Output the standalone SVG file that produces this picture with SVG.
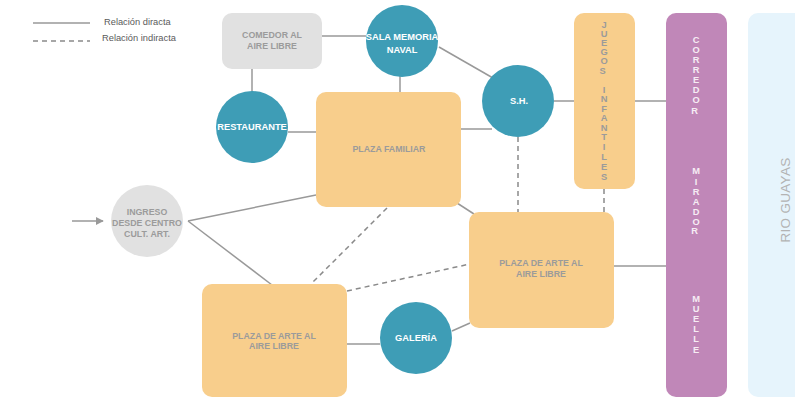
<svg xmlns="http://www.w3.org/2000/svg" width="795" height="398" viewBox="0 0 795 398">
<defs>
<style>
.ln{stroke:#999;stroke-width:1.5;fill:none}
.dl{stroke:#8a8a8a;stroke-width:1.5;fill:none;stroke-dasharray:5,4}
.blue{fill:#3e9db6}
.org{fill:#f8ce8c}
.gry{fill:#e1e1e1}
.tw{font-family:"Liberation Sans",Arial,sans-serif;font-weight:bold;font-size:9.3px;fill:#ffffff;text-anchor:middle}
.tg{font-family:"Liberation Sans",Arial,sans-serif;font-weight:bold;font-size:8.8px;fill:#9b9b9b;text-anchor:middle}
.lg{font-family:"Liberation Sans",Arial,sans-serif;font-size:9.3px;fill:#5a5a5a}
.vt{font-family:"Liberation Sans",Arial,sans-serif;font-weight:bold;font-size:9.3px;text-anchor:middle}
</style>
<marker id="arr" viewBox="0 0 10 10" refX="9" refY="5" markerWidth="8" markerHeight="8" markerUnits="userSpaceOnUse" orient="auto">
<path d="M0,0 L10,5 L0,10 z" fill="#999"/>
</marker>
</defs>

<g id="legend">
<line class="ln" x1="33" y1="23" x2="90" y2="23"/>
<text class="lg" x="104" y="25">Relación diracta</text>
<line class="dl" x1="33" y1="41" x2="90" y2="41"/>
<text class="lg" x="102" y="41">Relación indiracta</text>
</g>

<g id="connectors">
<line class="ln" x1="322" y1="36" x2="368" y2="36"/>
<line class="ln" x1="252" y1="69" x2="252" y2="92"/>
<line class="ln" x1="400" y1="76" x2="400" y2="92"/>
<line class="ln" x1="439" y1="47" x2="493" y2="78"/>
<line class="ln" x1="288" y1="132" x2="316" y2="132"/>
<line class="ln" x1="461" y1="129" x2="492" y2="129"/>
<line class="ln" x1="554" y1="101" x2="574" y2="101"/>
<line class="ln" x1="635" y1="101" x2="666" y2="101"/>
<line class="ln" x1="72" y1="221" x2="103" y2="221" marker-end="url(#arr)"/>
<line class="ln" x1="188" y1="221" x2="316" y2="195"/>
<line class="ln" x1="188" y1="221" x2="272" y2="285"/>
<line class="ln" x1="457" y1="203" x2="474" y2="214"/>
<line class="ln" x1="614" y1="266" x2="666" y2="266"/>
<line class="ln" x1="347" y1="344" x2="380" y2="344"/>
<line class="ln" x1="452" y1="331" x2="470" y2="323"/>
<line class="dl" x1="387" y1="208" x2="311" y2="284"/>
<line class="dl" x1="347" y1="291" x2="470" y2="264"/>
<line class="dl" x1="518" y1="137" x2="518" y2="212"/>
<line class="dl" x1="604" y1="189" x2="604" y2="212"/>
</g>

<g id="rio">
<rect x="748" y="13" width="60" height="384" rx="10" fill="#e6f4fc"/>
<text x="790" y="200" transform="rotate(-90 790 200)" font-family="'Liberation Sans',Arial,sans-serif" font-size="13.5" fill="#b3b3b3" text-anchor="middle" letter-spacing="0.3">RIO GUAYAS</text>
</g>

<g id="corredor">
<rect x="666" y="13" width="61" height="384" rx="10" fill="#c087b8"/>
<text class="vt" fill="#f6ecf4">
<tspan x="696" y="43">C</tspan><tspan x="696" y="53">O</tspan><tspan x="696" y="63">R</tspan><tspan x="696" y="73">R</tspan><tspan x="696" y="83">E</tspan><tspan x="696" y="93">D</tspan><tspan x="696" y="103">O</tspan><tspan x="696" y="114">R</tspan>
<tspan x="696" y="174">M</tspan><tspan x="696" y="185">I</tspan><tspan x="696" y="195">R</tspan><tspan x="696" y="205">A</tspan><tspan x="696" y="215">D</tspan><tspan x="696" y="225">O</tspan><tspan x="696" y="234">R</tspan>
<tspan x="696" y="302">M</tspan><tspan x="696" y="312">U</tspan><tspan x="696" y="322">E</tspan><tspan x="696" y="332">L</tspan><tspan x="696" y="342">L</tspan><tspan x="696" y="353">E</tspan>
</text>
</g>

<g id="juegos">
<rect x="574" y="13" width="61" height="176" rx="10" class="org"/>
<text class="vt" fill="#9b9b9b">
<tspan x="604" y="28">J</tspan><tspan x="604" y="37">U</tspan><tspan x="604" y="46">E</tspan><tspan x="604" y="55">G</tspan><tspan x="604" y="64">O</tspan><tspan x="604" y="74">S</tspan>
<tspan x="604" y="93">I</tspan><tspan x="604" y="102">N</tspan><tspan x="604" y="112">F</tspan><tspan x="604" y="121">A</tspan><tspan x="604" y="131">N</tspan><tspan x="604" y="140">T</tspan><tspan x="604" y="150">I</tspan><tspan x="604" y="160">L</tspan><tspan x="604" y="170">E</tspan><tspan x="604" y="180">S</tspan>
</text>
</g>

<g id="comedor">
<rect x="222" y="13" width="100" height="56" rx="10" class="gry"/>
<text class="tg"><tspan x="272" y="38">COMEDOR AL</tspan><tspan x="272" y="49">AIRE LIBRE</tspan></text>
</g>

<g id="sala">
<circle cx="402" cy="41" r="36" class="blue"/>
<text class="tw"><tspan x="402" y="40">SALA MEMORIA</tspan><tspan x="402" y="53">NAVAL</tspan></text>
</g>

<g id="restaurante">
<circle cx="252" cy="127" r="36" class="blue"/>
<text class="tw" x="252" y="130">RESTAURANTE</text>
</g>

<g id="plaza-familiar">
<rect x="316" y="92" width="145" height="115" rx="10" class="org"/>
<text class="tg" x="389" y="152" font-size="9">PLAZA FAMILIAR</text>
</g>

<g id="sh">
<circle cx="518" cy="101" r="36" class="blue"/>
<text class="tw" x="519" y="104">S.H.</text>
</g>

<g id="ingreso">
<circle cx="147" cy="221" r="36" class="gry"/>
<text class="tg"><tspan x="147" y="215">INGRESO</tspan><tspan x="147" y="226">DESDE CENTRO</tspan><tspan x="147" y="237">CULT. ART.</tspan></text>
</g>

<g id="plaza-arte-1">
<rect x="469" y="212" width="145" height="116" rx="10" class="org"/>
<text class="tg"><tspan x="541" y="266">PLAZA DE ARTE AL</tspan><tspan x="541" y="277">AIRE LIBRE</tspan></text>
</g>

<g id="plaza-arte-2">
<rect x="202" y="284" width="145" height="113" rx="10" class="org"/>
<text class="tg"><tspan x="274" y="339">PLAZA DE ARTE AL</tspan><tspan x="274" y="349">AIRE LIBRE</tspan></text>
</g>

<g id="galeria">
<circle cx="416" cy="338" r="36" class="blue"/>
<text class="tw" x="416" y="341">GALERÍA</text>
</g>
</svg>
